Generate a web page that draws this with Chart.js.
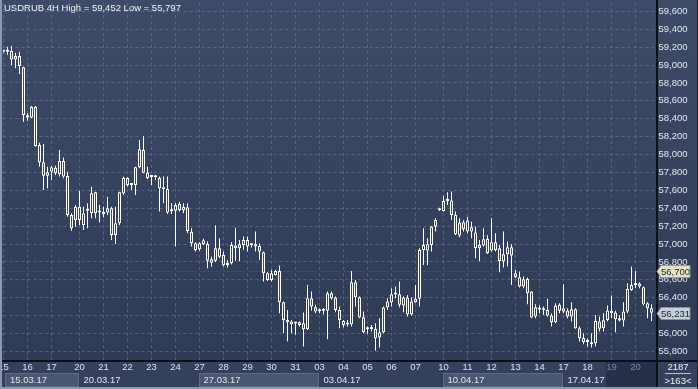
<!DOCTYPE html>
<html><head><meta charset="utf-8">
<style>html,body{margin:0;padding:0;background:#2f3a55;overflow:hidden}canvas{display:block}</style>
<script src="https://cdn.jsdelivr.net/npm/chart.js@4.4.1/dist/chart.umd.min.js"></script>
</head><body>
<canvas id="c" width="698" height="389"></canvas>
<script>
const chartTitle = 'USDRUB 4H High = 59,452 Low = 55,797';
const openP = [59149,59149,59156,59063,59100,58974,58438,58415,58534,58106,57913,57764,57808,57853,57779,57928,57760,57324,57269,57417,
57213,57373,57343,57578,57351,57358,57351,57399,57101,57231,57566,57738,57659,57659,57857,58050,57797,57755,57745,57738,
57611,57615,57365,57373,57447,57377,57410,57138,57008,56941,56997,57000,56792,56814,56952,56878,56766,56785,56982,56953,
56990,57046,56990,56997,56979,56908,56673,56599,56655,56699,56350,56152,56134,56115,56126,56115,56048,56394,56294,56253,
56257,56253,56450,56402,56264,56141,56100,56104,56573,56405,56182,56052,56050,56052,55955,56014,56290,56350,56439,56439,
56312,56402,56215,56350,56387,56934,56927,56990,57195,57377,57370,57481,57485,57325,57094,57243,57139,57187,57128,56953,
56982,57057,56927,57020,56953,56804,56886,56964,56673,56629,56524,56610,56469,56189,56290,56264,56264,56201,56126,56253,
56282,56257,56189,56271,56059,55951,55910,55903,55892,56134,56059,56152,56253,56234,56171,56145,56245,56487,56543,56558,
56517,56338,56282];
const highP = [59175,59205,59212,59138,59149,58981,58460,58542,58542,58132,58117,57864,57872,57875,58050,57968,57808,57343,57436,57592,
57417,57455,57641,57585,57436,57417,57529,57417,57417,57585,57753,57745,57678,57864,58162,58207,57864,57771,57771,57753,
57753,57753,57455,57455,57473,57455,57455,57176,57020,57020,57060,57027,56859,57210,57064,56915,56822,57020,57183,57046,
57083,57083,57008,57139,57008,56915,56684,56711,56711,56759,56357,56264,56152,56126,56133,56234,56543,56469,56320,56282,
56282,56469,56469,56413,56301,56152,56152,56699,56599,56413,56245,56078,56096,56115,56171,56301,56394,56506,56524,56580,
56413,56431,56402,56543,56953,57176,57064,57200,57288,57405,57540,57578,57586,57362,57288,57269,57306,57250,57195,57046,
57176,57102,57288,57120,56990,57139,57027,56997,56711,56692,56636,56625,56476,56327,56312,56301,56387,56227,56338,56338,
56551,56282,56350,56282,56078,56003,55947,56003,56208,56189,56227,56312,56424,56253,56208,56350,56562,56748,56699,56573,
56524,56350,56327];
const lowP = [59130,59111,59000,58963,58899,58367,58378,58404,58088,57864,57604,57622,57715,57771,57753,57734,57306,57149,57194,57213,
57157,57176,57287,57287,57239,57298,57324,57045,57001,57213,57548,57641,57604,57548,57846,57790,57723,57659,57715,57362,
57455,57336,57336,56971,57362,57343,57120,56971,56915,56925,56990,56729,56747,56800,56840,56748,56737,56770,56811,56811,
56934,56915,56960,56915,56822,56580,56588,56580,56647,56227,56003,55910,56003,55985,56078,55854,56040,56253,56227,56227,
56215,55936,56376,56238,56059,56067,56078,56078,56301,56171,56003,55996,56022,55806,55843,56003,56264,56301,56394,56294,
56238,56189,56201,56345,56301,56766,56766,56915,57139,57370,57362,57437,57269,57102,57075,57139,57120,57064,56841,56811,
56971,56889,56915,56915,56685,56737,56748,56543,56618,56513,56506,56327,56171,56171,56227,56208,56189,56078,56115,56227,
56227,56171,56134,56052,55910,55880,55854,55843,55854,56022,56022,56134,56171,56014,56134,56078,56227,56476,56506,56506,
56312,56171,56141];
const closeP = [59164,59156,59063,59100,58989,58441,58415,58534,58095,57913,57764,57801,57857,57790,57928,57753,57324,57176,57417,57269,
57343,57391,57566,57343,57355,57332,57399,57101,57231,57578,57738,57659,57663,57857,58058,57797,57734,57750,57750,57622,
57626,57351,57377,57436,57380,57414,57146,57008,56933,57008,57041,56814,56829,56952,56859,56766,56770,56990,56953,56997,
57046,56971,56985,56971,56915,56673,56599,56673,56699,56350,56152,56126,56104,56112,56096,56048,56394,56301,56245,56250,
56255,56450,56394,56264,56152,56096,56104,56573,56405,56178,56014,56048,56055,55947,56014,56290,56357,56439,56435,56320,
56402,56215,56357,56387,56934,56990,56997,57195,57269,57399,57481,57485,57325,57109,57239,57165,57262,57139,56953,56990,
57053,56897,57020,56934,56811,56886,56964,56871,56629,56524,56606,56450,56178,56294,56268,56260,56201,56126,56312,56320,
56245,56189,56271,56059,55947,55903,55906,55880,56141,56052,56148,56257,56227,56160,56145,56245,56498,56543,56558,56524,
56327,56282,56231];
const dayTickIndex = [0,6,12,19,25,31,37,43,49,55,61,67,73,79,85,91,97,103,110,116,122,128,134,140,146,152,158];
const dayTickLabel = ['15','16','17','20','21','22','23','24','27','28','29','30','31','03','04','05','06','07','10','11','12','13','14','17','18','19','20'];
const weekStartIndex = [0,19,49,79,110,140];
const weekLabel = ['15.03.17','20.03.17','27.03.17','03.04.17','10.04.17','17.04.17'];
const yTickValues = [55800,56000,56200,56400,56600,56800,57000,57200,57400,57600,57800,58000,58200,58400,58600,58800,59000,59200,59400,59600];
const levelPrice = 56700;
const lastPrice = 56231;
const barCountText = '2187';
const visibleText = '>163<';

const FONT = '"Liberation Sans", Arial, sans-serif';
const fmt = v => v.toLocaleString('en-US');
const candleLabels = openP.map((_, i) => String(i)).concat(['']);

const chromePlugin = {
  id: 'chrome',
  beforeDraw(chart) {
    const {ctx, width: W, height: H, chartArea: a} = chart;
    const xs = chart.scales.x;
    ctx.save();
    const g = ctx.createLinearGradient(0, 0, 0, H);
    g.addColorStop(0, '#3e4b68');
    g.addColorStop(1, '#2e3953');
    ctx.fillStyle = g;
    ctx.fillRect(0, 0, W, H);
    ctx.fillStyle = '#35415c';
    ctx.fillRect(0, a.bottom, W, H - a.bottom);
    const panelX = (xs.getPixelForValue(150) + xs.getPixelForValue(151)) / 2;
    for (let k = 0; k < weekStartIndex.length; k++) {
      const x0 = Math.max(5, Math.round(xs.getPixelForValue(weekStartIndex[k])) - 1);
      const x1 = k + 1 < weekStartIndex.length ? Math.round(xs.getPixelForValue(weekStartIndex[k + 1])) - 1 : Math.round(panelX);
      if (k % 2 === 0) {
        ctx.fillStyle = '#4a5672';
        ctx.fillRect(x0, a.bottom + 13, x1 - x0, 14);
        ctx.strokeStyle = '#5d6983';
        ctx.lineWidth = 1;
        ctx.strokeRect(x0 + 0.5, a.bottom + 13.5, x1 - x0 - 1, 13);
      }
    }
    ctx.fillStyle = '#283049';
    ctx.fillRect(Math.round(panelX), a.bottom + 1, Math.round(a.right) - Math.round(panelX), H - a.bottom - 3);
    ctx.restore();
  },
  beforeDatasetsDraw(chart) {
    const {ctx, chartArea: a} = chart;
    const y = Math.round(chart.scales.y.getPixelForValue(levelPrice)) + 0.5;
    ctx.save();
    ctx.strokeStyle = '#b52a3c';
    ctx.lineWidth = 1;
    ctx.setLineDash([2, 2]);
    ctx.beginPath();
    ctx.moveTo(a.left, y);
    ctx.lineTo(a.right, y);
    ctx.stroke();
    ctx.restore();
  },
  afterDraw(chart) {
    const {ctx, width: W, height: H, chartArea: a} = chart;
    const xs = chart.scales.x, ys = chart.scales.y;
    ctx.save();
    ctx.fillStyle = '#0c0f18';
    ctx.fillRect(0, Math.round(a.bottom), W, 2);
    ctx.fillRect(Math.round(a.right), 0, 2, H);
    ctx.fillStyle = '#8d99ae';
    ctx.fillRect(0, 0, 2, H);
    ctx.fillRect(0, H - 2, W, 2);
    ctx.fillStyle = '#1c2335';
    ctx.fillRect(W - 1, 0, 1, H);
    ctx.font = '9.5px ' + FONT;
    ctx.fillStyle = '#f0f2f6';
    ctx.textBaseline = 'middle';
    ctx.textAlign = 'left';
    ctx.fillText(chartTitle, 4, 8.5);
    ctx.fillStyle = '#dfe4ec';
    for (let k = 0; k < weekStartIndex.length; k++) {
      const x0 = Math.max(8, xs.getPixelForValue(weekStartIndex[k]) + 2);
      ctx.fillText(weekLabel[k], x0 + 2, a.bottom + 20.5);
    }
    const marker = (price, bg, border) => {
      const y = Math.round(ys.getPixelForValue(price)) + 0.5;
      const x0 = Math.round(a.right) + 1;
      ctx.beginPath();
      ctx.moveTo(x0, y);
      ctx.lineTo(x0 + 4, y - 6);
      ctx.lineTo(x0 + 33, y - 6);
      ctx.lineTo(x0 + 33, y + 6);
      ctx.lineTo(x0 + 4, y + 6);
      ctx.closePath();
      ctx.fillStyle = bg;
      ctx.fill();
      ctx.strokeStyle = border;
      ctx.lineWidth = 1;
      ctx.stroke();
      ctx.fillStyle = '#1d2436';
      ctx.textAlign = 'left';
      ctx.fillText(fmt(price), x0 + 4, y + 0.5);
    };
    marker(levelPrice, '#e4e3c6', '#9c9c82');
    marker(lastPrice, '#c6cedb', '#8791a3');
    ctx.fillStyle = '#f0f2f6';
    ctx.textAlign = 'center';
    const cx = (Math.round(a.right) + W) / 2 + 1;
    ctx.fillText(barCountText, cx, a.bottom + 7.5);
    ctx.fillText(visibleText, cx, a.bottom + 21.5);
    ctx.fillStyle = '#b8c0cc';
    ctx.fillRect(cx - 13, a.bottom + 13, 26, 1);
    ctx.restore();
  }
};

const bodyData = openP.map((o, i) => [Math.min(o, closeP[i]), Math.max(o, closeP[i])]);
const wickData = openP.map((o, i) => [lowP[i], highP[i]]);
const bodyColors = openP.map((o, i) => closeP[i] < o ? '#e6002e' : '#37445f');

new Chart(document.getElementById('c'), {
  type: 'bar',
  data: {
    labels: candleLabels,
    datasets: [
      {data: wickData, backgroundColor: '#ffffff', borderWidth: 0, barThickness: 1, inflateAmount: 0, grouped: false, order: 2},
      {data: bodyData, backgroundColor: bodyColors, borderColor: '#ffffff', borderWidth: 1, borderSkipped: false,
       barThickness: 3, minBarLength: 2, inflateAmount: 0, grouped: false, order: 1}
    ]
  },
  options: {
    responsive: false,
    animation: false,
    devicePixelRatio: 1,
    layout: {padding: {left: 3.5, top: 3, right: 0, bottom: 0}},
    plugins: {legend: {display: false}, tooltip: {enabled: false}, title: {display: false}},
    scales: {
      x: {
        type: 'category',
        offset: false,
        grid: {offset: false, color: 'rgba(112,128,160,0.55)', drawTicks: false, lineWidth: 1},
        border: {display: false, dash: [3, 3]},
        ticks: {
          autoSkip: false, maxRotation: 0, minRotation: 0, padding: 2,
          font: {family: FONT, size: 9.5},
          color: c => (c.index >= dayTickIndex.length - 2 ? '#7d889c' : '#dbe1ea'),
          callback: (v, i) => dayTickLabel[i]
        },
        afterBuildTicks: s => { s.ticks = dayTickIndex.map(v => ({value: v})); },
        afterFit: s => { s.height = 29; s.paddingLeft = 0; s.paddingRight = 0; }
      },
      y: {
        type: 'linear',
        position: 'right',
        min: 55704,
        max: 59693,
        grid: {color: 'rgba(112,128,160,0.55)', drawTicks: false, lineWidth: 1},
        border: {display: false, dash: [3, 3]},
        ticks: {
          autoSkip: false, padding: 3,
          font: {family: FONT, size: 9.5},
          color: '#e2e6ee',
          callback: v => fmt(v)
        },
        afterBuildTicks: s => { s.ticks = yTickValues.map(v => ({value: v})); },
        afterFit: s => { s.width = 42.5; s.paddingTop = 0; s.paddingBottom = 0; }
      }
    }
  },
  plugins: [chromePlugin]
});
</script>
</body></html>
